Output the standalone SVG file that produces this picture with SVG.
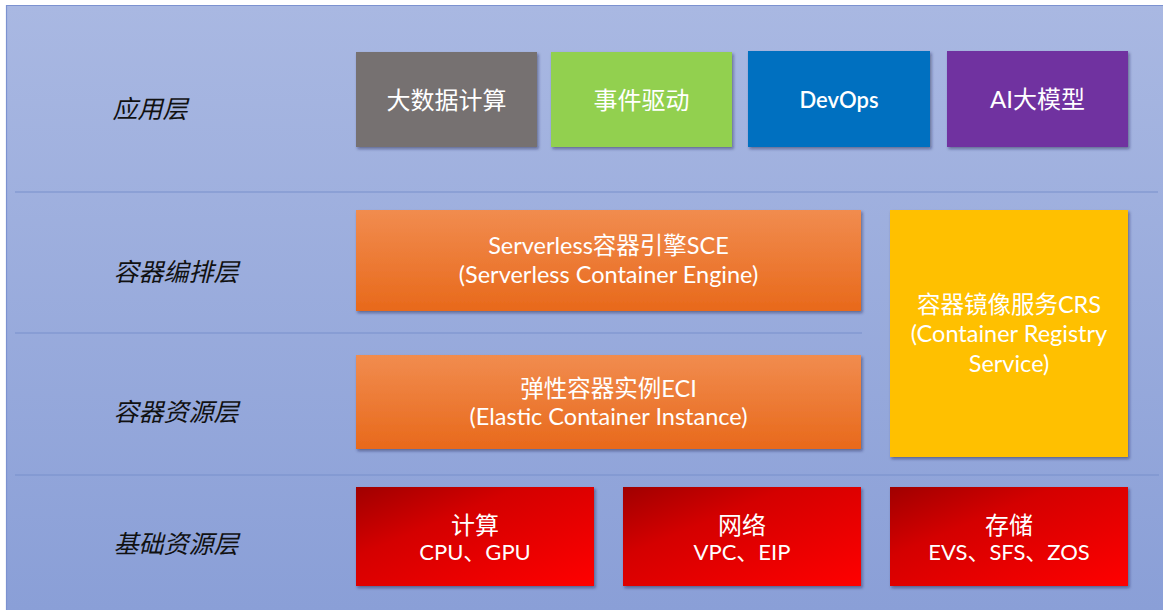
<svg xmlns="http://www.w3.org/2000/svg" width="1163" height="610" viewBox="0 0 1163 610">
  <defs>
    <linearGradient id="bg" x1="0" y1="0" x2="0" y2="1">
      <stop offset="0" stop-color="#a9b8e2"/>
      <stop offset="1" stop-color="#8a9fd7"/>
    </linearGradient>
    <linearGradient id="orange" x1="0" y1="0" x2="0" y2="1">
      <stop offset="0" stop-color="#f18c4f"/>
      <stop offset="1" stop-color="#e8691b"/>
    </linearGradient>
    <linearGradient id="red" x1="0" y1="0" x2="1" y2="1">
      <stop offset="0" stop-color="#a00000"/>
      <stop offset="0.35" stop-color="#d40000"/>
      <stop offset="1" stop-color="#ff0000"/>
    </linearGradient>
    <filter id="shadow" x="-5%" y="-5%" width="112%" height="115%">
      <feDropShadow dx="1.5" dy="2" stdDeviation="1.5" flood-color="#1a1a40" flood-opacity="0.45"/>
    </filter>
    <style>
      .layer { font-family: "Noto Sans CJK SC", sans-serif; font-size: 25px; font-style: italic; fill: #111; text-anchor: middle; }
      .box { filter: url(#shadow); }
      .lbl { font-family: Lato, "Noto Sans CJK SC", sans-serif; font-size: 22px; fill: #ffffff; text-anchor: middle; }
      .big { font-size: 24px; }
      .mid { font-size: 23.5px; }
      .semi { font-weight: 600; }
      .divider { stroke: #7890cc; stroke-width: 1.2; fill: none; }
    </style>
  </defs>

  <!-- canvas and frame -->
  <rect x="0" y="0" width="1163" height="610" fill="#ffffff"/>
  <rect x="6" y="5" width="1157" height="605" fill="url(#bg)"/>
  <path d="M6.5 610 V5.5 H1163" stroke="#7c92d0" stroke-width="1.2" fill="none"/>

  <!-- layer dividers -->
  <g id="dividers">
    <line class="divider" x1="15" y1="192" x2="1158" y2="192"/>
    <line class="divider" x1="15" y1="333" x2="862" y2="333"/>
    <line class="divider" x1="15" y1="475" x2="1159" y2="475"/>
  </g>

  <!-- layer titles -->
  <g id="layer-labels">
    <text class="layer" x="150" y="118">应用层</text>
    <text class="layer" x="176" y="281">容器编排层</text>
    <text class="layer" x="176" y="421">容器资源层</text>
    <text class="layer" x="176" y="553">基础资源层</text>
  </g>

  <!-- application layer -->
  <g id="bigdata">
    <rect class="box" x="356" y="52" width="181" height="95" fill="#767171"/>
    <text class="lbl big" x="446.5" y="109">大数据计算</text>
  </g>
  <g id="event">
    <rect class="box" x="551" y="52" width="181" height="95" fill="#92d050"/>
    <text class="lbl big" x="641.5" y="109">事件驱动</text>
  </g>
  <g id="devops">
    <rect class="box" x="748" y="51" width="182" height="96" fill="#0070c0"/>
    <text class="lbl semi" x="839" y="108">DevOps</text>
  </g>
  <g id="ai">
    <rect class="box" x="947" y="51" width="181" height="96" fill="#7030a0"/>
    <text class="lbl big" x="1037.5" y="108">AI大模型</text>
  </g>

  <!-- container orchestration / resource layers -->
  <g id="sce">
    <rect class="box" x="356" y="210" width="505" height="101" fill="url(#orange)"/>
    <text class="lbl mid" x="608.5" y="254">Serverless容器引擎SCE</text>
    <text class="lbl mid" x="608.5" y="283">(Serverless Container Engine)</text>
  </g>
  <g id="eci">
    <rect class="box" x="356" y="355" width="505" height="94" fill="url(#orange)"/>
    <text class="lbl mid" x="608.5" y="397">弹性容器实例ECI</text>
    <text class="lbl mid" x="608.5" y="425">(Elastic Container Instance)</text>
  </g>
  <g id="crs">
    <rect class="box" x="890" y="210" width="238" height="247" fill="#ffc000"/>
    <text class="lbl mid" x="1009" y="313">容器镜像服务CRS</text>
    <text class="lbl mid" x="1009" y="342">(Container Registry</text>
    <text class="lbl mid" x="1009" y="372">Service)</text>
  </g>

  <!-- infrastructure layer -->
  <g id="compute">
    <rect class="box" x="356" y="487" width="238" height="99" fill="url(#red)"/>
    <text class="lbl big" x="475" y="534">计算</text>
    <text class="lbl" x="475" y="560">CPU、GPU</text>
  </g>
  <g id="network">
    <rect class="box" x="623" y="487" width="238" height="99" fill="url(#red)"/>
    <text class="lbl big" x="742" y="534">网络</text>
    <text class="lbl" x="742" y="560">VPC、EIP</text>
  </g>
  <g id="storage">
    <rect class="box" x="890" y="487" width="238" height="99" fill="url(#red)"/>
    <text class="lbl big" x="1009" y="534">存储</text>
    <text class="lbl" x="1009" y="560">EVS、SFS、ZOS</text>
  </g>
</svg>
